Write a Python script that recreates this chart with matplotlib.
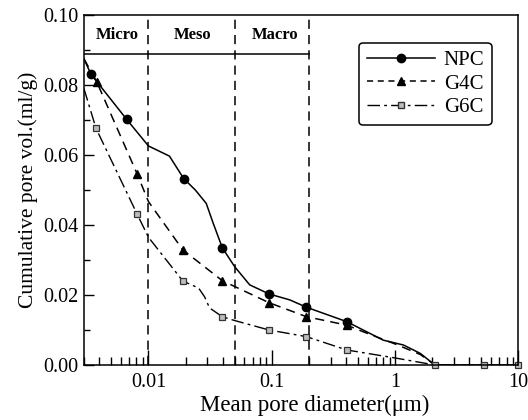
import numpy as np
import matplotlib.pyplot as plt
from matplotlib.lines import Line2D
from matplotlib.ticker import FixedLocator, FixedFormatter, MultipleLocator

plt.rcParams['font.family'] = ['Liberation Serif', 'DejaVu Serif']

# marker points
npc_x = [0.00342, 0.00666, 0.0193, 0.0397, 0.095, 0.191, 0.404]
npc_y = [0.0831, 0.0702, 0.0533, 0.0335, 0.0203, 0.0165, 0.0124]
g4c_x = [0.0038, 0.0081, 0.019, 0.0397, 0.095, 0.191, 0.404]
g4c_y = [0.0810, 0.0546, 0.0329, 0.0241, 0.0178, 0.0138, 0.0114]
g6c_x = [0.00376, 0.0081, 0.019, 0.0397, 0.095, 0.191, 0.404, 2.1, 5.3, 10.0]
g6c_y = [0.0676, 0.0431, 0.0240, 0.0138, 0.0100, 0.0081, 0.0043, 0.0, 0.0, 0.0]

# curve vertices
npc_cx = [0.003, 0.00342, 0.00666, 0.01, 0.0148, 0.0193, 0.024, 0.0294, 0.0335, 0.0397,
          0.05, 0.0662, 0.095, 0.14, 0.191, 0.404, 0.80, 1.17, 1.6, 2.1, 10.0]
npc_cy = [0.0875, 0.0831, 0.0702, 0.0626, 0.0597, 0.0533, 0.0500, 0.0462, 0.0405, 0.0335,
          0.0281, 0.0229, 0.0203, 0.0186, 0.0165, 0.0124, 0.0071, 0.0057, 0.0033, 0.0, 0.0]
g4c_cx = [0.003, 0.0038, 0.0081, 0.01, 0.019, 0.0397, 0.095, 0.191, 0.404, 0.55,
          1.0, 1.6, 2.1]
g4c_cy = [0.0875, 0.0810, 0.0546, 0.0467, 0.0329, 0.0241, 0.0178, 0.0138, 0.0114,
          0.0095, 0.0060, 0.0030, 0.0]
g6c_cx = [0.003, 0.00376, 0.0081, 0.01, 0.019, 0.0255, 0.0285, 0.0313, 0.0397, 0.05,
          0.095, 0.191, 0.404, 1.0, 2.1, 5.3, 10.0]
g6c_cy = [0.0790, 0.0676, 0.0431, 0.0365, 0.0240, 0.0220, 0.0195, 0.0163, 0.0138, 0.0127,
          0.0100, 0.0081, 0.0043, 0.0020, 0.0, 0.0, 0.0]

bounds = [0.01, 0.05, 0.2]
regions = ['Micro', 'Meso', 'Macro']
region_x = [0.0056, 0.0228, 0.107]

fig = plt.figure(figsize=(5.28, 4.2), dpi=100)
ax = fig.add_axes([0.159, 0.131, 0.823, 0.833])

ax.plot(npc_cx, npc_cy, color='black', lw=1.1, ls='-')
ax.plot(npc_x, npc_y, 'o', color='black', ms=6)
ax.plot(g4c_cx, g4c_cy, color='black', lw=1.1, ls=(0, (6, 4)))
ax.plot(g4c_x, g4c_y, '^', color='black', ms=6)
ax.plot(g6c_cx, g6c_cy, color='black', lw=1.0, ls=(0, (9, 3, 2, 3)))
ax.plot(g6c_x, g6c_y, 's', mfc='#bdbdbd', mec='#333333', mew=0.9, ms=5, clip_on=False)

for b in bounds:
    ax.axvline(b, color='black', lw=1.1, ls=(0, (6, 4)))
ax.plot([0.003, 0.2], [0.089, 0.089], color='black', lw=1.1)
for name, xx in zip(regions, region_x):
    ax.text(xx, 0.0942, name, ha='center', va='center', fontsize=12, fontweight='bold')

ax.set_xscale('log')
ax.set_xlim(0.003, 10)
ax.set_ylim(0, 0.10)
ax.xaxis.set_major_locator(FixedLocator([0.01, 0.1, 1, 10]))
ax.xaxis.set_major_formatter(FixedFormatter(['0.01', '0.1', '1', '10']))
ax.yaxis.set_major_locator(MultipleLocator(0.02))
ax.yaxis.set_minor_locator(MultipleLocator(0.01))
ax.yaxis.set_major_formatter(plt.FuncFormatter(lambda v, p: '%.2f' % v))
ax.tick_params(which='both', direction='in', top=False, right=False, labelsize=14.5)
ax.tick_params(axis='x', which='major', length=11, width=1)
ax.tick_params(axis='x', which='minor', length=6, width=1)
ax.tick_params(axis='y', which='major', length=7, width=1)
ax.tick_params(axis='y', which='minor', length=4, width=1)
ax.tick_params(axis='x', pad=6)
ax.tick_params(axis='y', pad=4)
for s in ax.spines.values():
    s.set_linewidth(1.1)

ax.set_xlabel('Mean pore diameter(\u03bcm)', fontsize=16.5, labelpad=1)
ax.xaxis.set_label_coords(0.53, -0.085)
ax.set_ylabel('Cumulative pore vol.(ml/g)', fontsize=15.5, labelpad=4)

handles = [
    Line2D([], [], color='black', lw=1.1, marker='o', ms=6),
    Line2D([], [], color='black', lw=1.1, ls=(0, (4, 3)), marker='^', ms=6),
    Line2D([], [], color='black', lw=1.0, ls=(0, (9, 3, 2, 3)), marker='s',
           mfc='#bdbdbd', mec='#333333', ms=5),
]
leg = ax.legend(handles, ['NPC', 'G4C', 'G6C'], loc='upper right',
                bbox_to_anchor=(0.938, 0.92), borderaxespad=0, fontsize=15,
                handlelength=3.3, labelspacing=0.2, borderpad=0.35,
                handletextpad=0.4, fancybox=True, framealpha=1, edgecolor='black')
leg.get_frame().set_linewidth(1.1)

fig.savefig('out.png', dpi=100)
